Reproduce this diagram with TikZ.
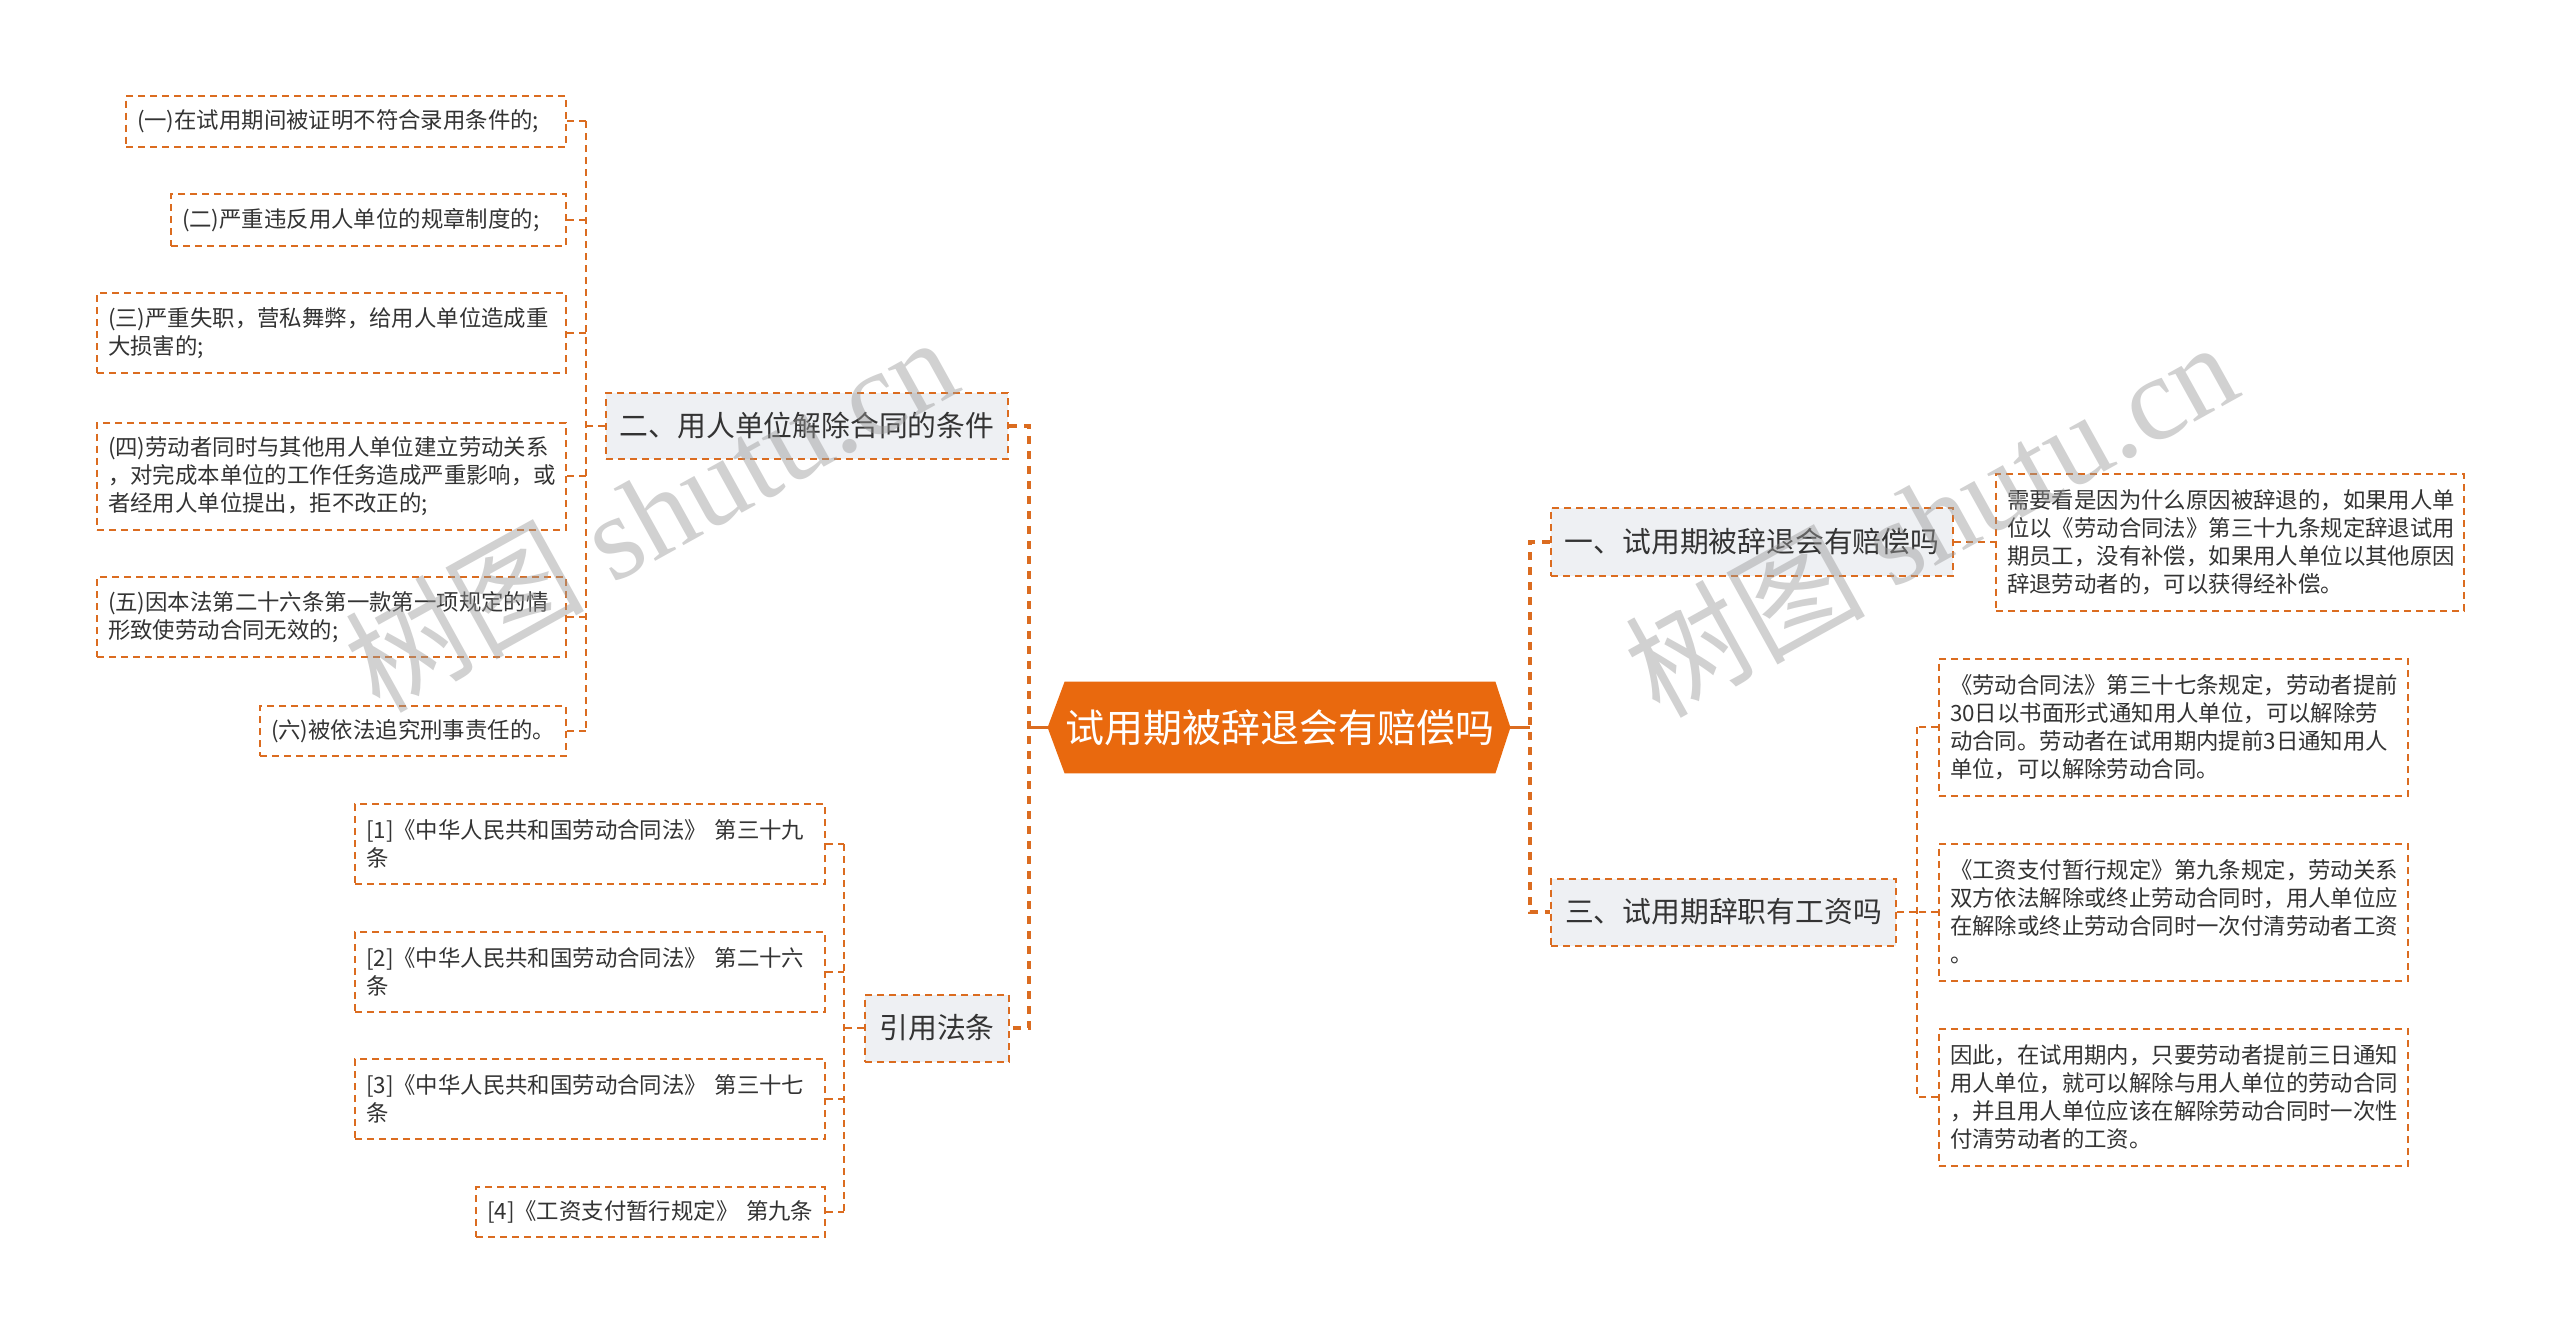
\documentclass[tikz,border=0pt]{standalone}
\usepackage{fontspec}
\usetikzlibrary{backgrounds}
\newfontfamily\cjk{Noto Sans CJK SC}
\newfontfamily\wmlatin{Liberation Serif}
\definecolor{ora}{HTML}{DB6C20}
\definecolor{rootc}{HTML}{E9690E}
\definecolor{brfill}{HTML}{EEF0F3}
\definecolor{txt}{HTML}{333333}
\definecolor{wmc}{HTML}{999999}
\begin{document}
\begin{tikzpicture}[x=0.5pt,y=-0.5pt,
  leaf/.style={draw=ora, line width=1pt, dash pattern=on 3.5pt off 2.5pt, fill=white, text=txt,
    font=\cjk\fontsize{11.2}{14}\selectfont, align=left, inner xsep=5.5pt, inner ysep=0pt, anchor=west},
  branch/.style={draw=ora, line width=1pt, dash pattern=on 3.5pt off 2.5pt, fill=brfill, text=txt,
    font=\cjk\fontsize{14.4}{17}\selectfont, inner sep=0pt, align=center},
  rootnode/.style={text=white, font=\cjk\fontsize{19.5}{24}\selectfont, inner sep=0pt,
    minimum width=215pt, minimum height=45.5pt},
  link/.style={draw=ora, line width=1pt, dash pattern=on 3.5pt off 2.5pt},
  trunk/.style={draw=ora, line width=1.6pt, dash pattern=on 4pt off 3.5pt},
  rootlink/.style={draw=ora, line width=1.5pt},
  wm/.style={font=\cjk\fontsize{60}{60}\selectfont, text=wmc, text opacity=0.45, inner sep=0pt}
]
\useasboundingbox (0,0) rectangle (2560,1334);

% root
\node[rootnode] (root) at (1280,727.5) {试用期被辞退会有赔偿吗};
\coordinate (rootL) at ([xshift=-8.5pt]root.west);
\coordinate (rootR) at ([xshift=7.5pt]root.east);

% main branches
\node[branch, minimum width=201pt, minimum height=33pt] (b2) at (807,426) {二、用人单位解除合同的条件};
\node[branch, minimum width=72pt, minimum height=33.5pt] (b4) at (937,1028) {引用法条};
\node[branch, minimum width=201pt, minimum height=34pt] (b1) at (1752,542) {一、试用期被辞退会有赔偿吗};
\node[branch, minimum width=172.5pt, minimum height=33.5pt] (b3) at (1723.5,912) {三、试用期辞职有工资吗};

% left leaves of b2
\node[leaf, text width=209pt, minimum height=25.5pt] (l1) at (125,121) {(一)在试用期间被证明不符合录用条件的;};
\node[leaf, text width=186.5pt, minimum height=26pt] (l2) at (170,220) {(二)严重违反用人单位的规章制度的;};
\node[leaf, text width=223.5pt, minimum height=40pt] (l3) at (96,333) {(三)严重失职，营私舞弊，给用人单位造成重\\大损害的;};
\node[leaf, text width=223.5pt, minimum height=53.5pt] (l4) at (96,476) {(四)劳动者同时与其他用人单位建立劳动关系\\，对完成本单位的工作任务造成严重影响，或\\者经用人单位提出，拒不改正的;};
\node[leaf, text width=223.5pt, minimum height=40pt] (l5) at (96,617) {(五)因本法第二十六条第一款第一项规定的情\\形致使劳动合同无效的;};
\node[leaf, text width=142pt, minimum height=25pt] (l6) at (259,731) {(六)被依法追究刑事责任的。};

% references
\node[leaf, text width=224pt, minimum height=40pt] (r1) at (354,844) {[1]《中华人民共和国劳动合同法》 第三十九\\条};
\node[leaf, text width=224pt, minimum height=40pt] (r2) at (354,972) {[2]《中华人民共和国劳动合同法》 第二十六\\条};
\node[leaf, text width=224pt, minimum height=40pt] (r3) at (354,1099) {[3]《中华人民共和国劳动合同法》 第三十七\\条};
\node[leaf, text width=163.5pt, minimum height=25pt] (r4) at (475,1212) {[4]《工资支付暂行规定》 第九条};

% right leaves
\node[leaf, text width=223pt, minimum height=68.5pt] (c1) at (1995,542) {需要看是因为什么原因被辞退的，如果用人单\\位以《劳动合同法》第三十九条规定辞退试用\\期员工，没有补偿，如果用人单位以其他原因\\辞退劳动者的，可以获得经补偿。};
\node[leaf, text width=223.5pt, minimum height=68.5pt] (ca) at (1938,727) {《劳动合同法》第三十七条规定，劳动者提前\\30日以书面形式通知用人单位，可以解除劳\\动合同。劳动者在试用期内提前3日通知用人\\单位，可以解除劳动合同。};
\node[leaf, text width=223.5pt, minimum height=68.5pt] (cb) at (1938,912) {《工资支付暂行规定》第九条规定，劳动关系\\双方依法解除或终止劳动合同时，用人单位应\\在解除或终止劳动合同时一次付清劳动者工资\\。};
\node[leaf, text width=223.5pt, minimum height=68.5pt] (cc) at (1938,1097) {因此，在试用期内，只要劳动者提前三日通知\\用人单位，就可以解除与用人单位的劳动合同\\，并且用人单位应该在解除劳动合同时一次性\\付清劳动者的工资。};

% junctions
\coordinate (jL) at (1029,727.5);
\coordinate (jR) at (1530,727.5);
\coordinate (k2) at (586,426);
\coordinate (k4) at (844,1028);
\coordinate (k3) at (1917,912);

% root links
\draw[rootlink] (rootL) -- (jL);
\draw[rootlink] (rootR) -- (jR);
\draw[trunk] (b2.east) -- (b2.east -| jL) -- (b4.east -| jL) -- (b4.east);
\draw[trunk] (b1.west) -- (b1.west -| jR) -- (b3.west -| jR) -- (b3.west);

% b2 bracket
\draw[link] (b2.west) -- (k2);
\draw[link] (l1.east -| k2) -- (l6.east -| k2);
\foreach \n in {l1,l2,l3,l4,l5,l6} \draw[link] (\n.east) -- (\n.east -| k2);

% b4 bracket
\draw[link] (b4.west) -- (k4);
\draw[link] (r1.east -| k4) -- (r4.east -| k4);
\foreach \n in {r1,r2,r3,r4} \draw[link] (\n.east) -- (\n.east -| k4);

% b1 link
\draw[link] (b1.east) -- (c1.west);

% b3 bracket
\draw[link] (b3.east) -- (k3);
\draw[link] (ca.west -| k3) -- (cc.west -| k3);
\foreach \n in {ca,cb,cc} \draw[link] (\n.west) -- (\n.west -| k3);

\begin{scope}[on background layer]
\fill[white] (0,0) rectangle (2560,1334);
\fill[rootc] (root.north west) -- (root.north east) -- (rootR) -- (root.south east) -- (root.south west) -- (rootL) -- cycle;
\end{scope}

% watermarks
\node[wm, rotate=29] (wm1) at (650,512) {树图 {\wmlatin shutu.cn}};
\node[wm, rotate=29] (wm2) at (1930,517) {树图 {\wmlatin shutu.cn}};
\end{tikzpicture}
\end{document}
